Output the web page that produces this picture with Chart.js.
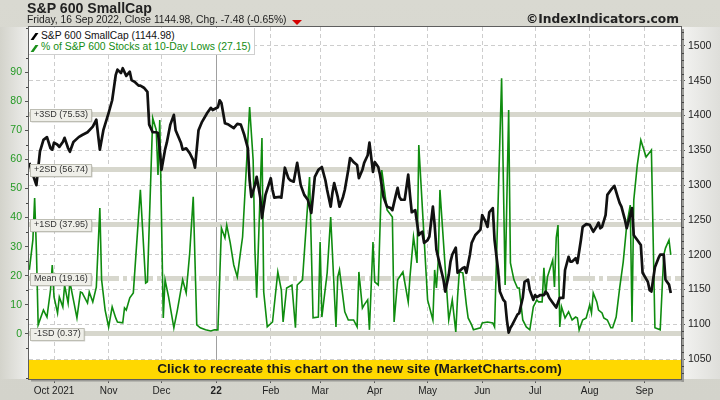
<!DOCTYPE html>
<html><head><meta charset="utf-8">
<script src="https://cdn.jsdelivr.net/npm/chart.js@4.4.0/dist/chart.umd.min.js"></script>
<style>
html,body{margin:0;padding:0;}
body{width:720px;height:400px;position:relative;overflow:hidden;background:linear-gradient(to bottom,#d9d9d1,#d3d3cb);font-family:"Liberation Sans",Arial,sans-serif;}
#bgL{position:absolute;left:0;top:27px;width:29px;height:352px;background:linear-gradient(to right,#d3d3cb,#eeeeec);}
#bgR{position:absolute;left:681px;top:27px;width:39px;height:352px;background:linear-gradient(to right,#f3f3f1,#dededa);}
canvas{position:absolute;left:0;top:0;}
.t{position:absolute;white-space:nowrap;line-height:1;}
#legend{position:absolute;left:29px;top:28px;width:225px;height:26px;background:#fff;border:1px solid #cfcfcf;border-left:none;border-top:none;}
.ico{position:absolute;width:2.5px;height:7px;transform:skewX(-35deg);}
#tri{position:absolute;width:0;height:0;border-left:5px solid transparent;border-right:5px solid transparent;border-top:5px solid #d40000;}
</style></head><body>
<div id="bgL"></div><div id="bgR"></div>
<canvas id="c" width="720" height="400"></canvas>
<div class="t" id="title" style="font-weight:bold;font-size:13px;color:#222;">S&amp;P 600 SmallCap</div>
<div class="t" id="sub" style="font-size:10.5px;color:#222;">Friday, 16 Sep 2022, Close 1144.98, Chg. -7.48 (-0.65%)</div>
<div id="tri"></div>
<div class="t" id="copy" style="font-family:'DejaVu Sans',sans-serif;font-weight:bold;font-size:11px;color:#222;">©IndexIndicators.com</div>
<div id="legend"></div>
<div class="ico" style="left:33px;top:33px;background:#000;"></div>
<div class="ico" style="left:33px;top:45px;background:#1a8f1a;"></div>
<div class="t" id="lg1" style="font-size:10.5px;color:#111;">S&amp;P 600 SmallCap (1144.98)</div>
<div class="t" id="lg2" style="font-size:10.5px;color:#138c13;">% of S&amp;P 600 Stocks at 10-Day Lows (27.15)</div>
<div class="t" id="banner" style="font-weight:bold;font-size:12px;color:#1a1a1a;">Click to recreate this chart on the new site (MarketCharts.com)</div>
<script>
// ---------- data ----------
const spxDates = [
"2021-09-17","2021-09-19","2021-09-21","2021-09-23","2021-09-25","2021-09-27","2021-09-29","2021-09-30","2021-10-01","2021-10-03",
"2021-10-04","2021-10-06","2021-10-07","2021-10-09","2021-10-10","2021-10-12","2021-10-15","2021-10-17","2021-10-20","2021-10-23",
"2021-10-25","2021-10-27","2021-10-29","2021-11-01","2021-11-03","2021-11-05","2021-11-06","2021-11-08","2021-11-09","2021-11-11",
"2021-11-13","2021-11-14","2021-11-16","2021-11-18","2021-11-19","2021-11-21","2021-11-23","2021-11-24","2021-11-26","2021-11-28",
"2021-11-29","2021-11-30","2021-12-01","2021-12-03","2021-12-04","2021-12-06","2021-12-08","2021-12-09","2021-12-12","2021-12-13",
"2021-12-15","2021-12-17","2021-12-19","2021-12-20","2021-12-22","2021-12-24","2021-12-27","2021-12-29","2021-12-30","2022-01-02",
"2022-01-03","2022-01-04","2022-01-06","2022-01-08","2022-01-11","2022-01-13","2022-01-15","2022-01-17","2022-01-19","2022-01-20",
"2022-01-21","2022-01-23","2022-01-24","2022-01-26","2022-01-27","2022-01-29","2022-02-01","2022-02-02","2022-02-03","2022-02-06",
"2022-02-07","2022-02-09","2022-02-11","2022-02-12","2022-02-14","2022-02-16","2022-02-18","2022-02-20","2022-02-22","2022-02-24",
"2022-02-26","2022-02-28","2022-03-02","2022-03-04","2022-03-05","2022-03-07","2022-03-08","2022-03-09","2022-03-11","2022-03-12",
"2022-03-14","2022-03-15","2022-03-17","2022-03-18","2022-03-20","2022-03-22","2022-03-23","2022-03-25","2022-03-26","2022-03-28",
"2022-03-29","2022-03-31","2022-04-01","2022-04-03","2022-04-04","2022-04-06","2022-04-08","2022-04-10","2022-04-11","2022-04-13",
"2022-04-14","2022-04-15","2022-04-16","2022-04-18","2022-04-20","2022-04-21","2022-04-22","2022-04-24","2022-04-26","2022-04-27",
"2022-04-28","2022-04-29","2022-05-01","2022-05-02","2022-05-04","2022-05-05","2022-05-06","2022-05-08","2022-05-10","2022-05-11",
"2022-05-13","2022-05-14","2022-05-15","2022-05-17","2022-05-18","2022-05-21","2022-05-22","2022-05-23","2022-05-25","2022-05-26",
"2022-05-28","2022-05-31","2022-06-01","2022-06-03","2022-06-04","2022-06-05","2022-06-07","2022-06-08","2022-06-10","2022-06-11",
"2022-06-13","2022-06-14","2022-06-15","2022-06-16","2022-06-17","2022-06-18","2022-06-20","2022-06-21","2022-06-22","2022-06-24",
"2022-06-25","2022-06-27","2022-06-28","2022-06-30","2022-07-01","2022-07-02","2022-07-04","2022-07-06","2022-07-07","2022-07-08",
"2022-07-09","2022-07-11","2022-07-13","2022-07-15","2022-07-17","2022-07-18","2022-07-20","2022-07-21","2022-07-22","2022-07-24",
"2022-07-25","2022-07-27","2022-07-28","2022-07-30","2022-08-01","2022-08-03","2022-08-05","2022-08-06","2022-08-07","2022-08-08",
"2022-08-10","2022-08-11","2022-08-13","2022-08-14","2022-08-15","2022-08-17","2022-08-18","2022-08-19","2022-08-21","2022-08-22",
"2022-08-24","2022-08-25","2022-08-26","2022-08-28","2022-08-30","2022-08-31","2022-09-03","2022-09-04","2022-09-05","2022-09-07",
"2022-09-09","2022-09-10","2022-09-12","2022-09-13","2022-09-15","2022-09-16"];
const spxValues = [
1332,1315,1300,1348,1365,1369,1353,1351,1361,1358,
1355,1362,1368,1353,1348,1362,1369,1372,1376,1384,
1394,1351,1379,1404,1422,1458,1466,1461,1468,1457,
1463,1451,1448,1443,1443,1440,1434,1387,1376,1376,
1375,1351,1322,1351,1361,1387,1401,1379,1361,1351,
1353,1346,1336,1325,1379,1391,1404,1411,1408,1412,
1422,1418,1389,1387,1382,1388,1387,1372,1353,1307,
1283,1300,1312,1283,1253,1286,1310,1293,1282,1283,
1282,1325,1310,1307,1305,1332,1300,1286,1279,1260,
1312,1322,1326,1307,1293,1269,1289,1303,1283,1269,
1283,1293,1322,1339,1333,1329,1310,1322,1332,1343,
1361,1319,1333,1326,1315,1283,1269,1267,1264,1286,
1296,1283,1279,1279,1315,1286,1261,1264,1228,1231,
1233,1217,1221,1226,1269,1243,1207,1185,1164,1147,
1171,1190,1200,1210,1174,1181,1182,1174,1200,1217,
1228,1236,1257,1247,1240,1261,1267,1221,1178,1147,
1135,1132,1106,1088,1095,1099,1109,1114,1116,1138,
1161,1164,1149,1135,1142,1139,1142,1142,1147,1144,
1138,1131,1124,1138,1138,1178,1197,1190,1190,1195,
1188,1221,1240,1244,1243,1233,1241,1246,1238,1240,
1257,1286,1293,1296,1299,1282,1274,1269,1250,1238,
1257,1267,1228,1221,1214,1174,1161,1149,1147,1182,
1195,1200,1200,1164,1157,1144.98];

const pctDates = [
"2021-09-17","2021-09-19","2021-09-20","2021-09-21","2021-09-22","2021-09-25","2021-09-27","2021-09-29","2021-09-30","2021-10-01",
"2021-10-03","2021-10-04","2021-10-06","2021-10-07","2021-10-09","2021-10-10","2021-10-12","2021-10-14","2021-10-16","2021-10-17",
"2021-10-20","2021-10-21","2021-10-23","2021-10-25","2021-10-27","2021-10-28","2021-10-30","2021-11-01","2021-11-03","2021-11-05",
"2021-11-06","2021-11-09","2021-11-10","2021-11-11","2021-11-13","2021-11-15","2021-11-19","2021-11-22","2021-11-23","2021-11-26",
"2021-11-28","2021-11-29","2021-11-30","2021-12-02","2021-12-03","2021-12-05","2021-12-08","2021-12-10","2021-12-13","2021-12-15",
"2021-12-17","2021-12-19","2021-12-21","2021-12-23","2021-12-26","2021-12-29","2021-12-31","2022-01-02","2022-01-04","2022-01-06",
"2022-01-07","2022-01-09","2022-01-11","2022-01-13","2022-01-15","2022-01-16","2022-01-20","2022-01-22","2022-01-23","2022-01-24",
"2022-01-27","2022-01-28","2022-01-30","2022-02-02","2022-02-05","2022-02-07","2022-02-08","2022-02-10","2022-02-13","2022-02-15",
"2022-02-16","2022-02-19","2022-02-23","2022-02-25","2022-02-28","2022-03-01","2022-03-02","2022-03-05","2022-03-07","2022-03-10",
"2022-03-11","2022-03-12","2022-03-15","2022-03-17","2022-03-20","2022-03-22","2022-03-23","2022-03-25","2022-03-26","2022-03-28",
"2022-03-29","2022-03-31","2022-04-01","2022-04-03","2022-04-05","2022-04-08","2022-04-11","2022-04-12","2022-04-14","2022-04-17",
"2022-04-20","2022-04-21","2022-04-23","2022-04-25","2022-04-26","2022-05-01","2022-05-04","2022-05-05","2022-05-06","2022-05-07",
"2022-05-08","2022-05-13","2022-05-15","2022-05-17","2022-05-18","2022-05-19","2022-05-21","2022-05-23","2022-05-24","2022-05-26",
"2022-05-27","2022-05-31","2022-06-01","2022-06-04","2022-06-07","2022-06-08","2022-06-12","2022-06-14","2022-06-16","2022-06-17",
"2022-06-19","2022-06-21","2022-06-22","2022-06-24","2022-06-26","2022-06-28","2022-06-30","2022-07-02","2022-07-03","2022-07-05",
"2022-07-06","2022-07-07","2022-07-08","2022-07-11","2022-07-12","2022-07-13","2022-07-14","2022-07-15","2022-07-16","2022-07-18",
"2022-07-20","2022-07-22","2022-07-24","2022-07-25","2022-07-26","2022-07-28","2022-07-30","2022-08-01","2022-08-02","2022-08-03",
"2022-08-05","2022-08-06","2022-08-08","2022-08-09","2022-08-11","2022-08-13","2022-08-14","2022-08-16","2022-08-18","2022-08-20",
"2022-08-22","2022-08-24","2022-08-25","2022-08-26","2022-08-28","2022-08-30","2022-09-02","2022-09-05","2022-09-07","2022-09-10",
"2022-09-12","2022-09-13","2022-09-15","2022-09-16"];
const pctValues = [
22.0,32.3,46.7,28.9,3.1,8.2,5.8,15.1,23.7,12.7,
7.2,12.7,9.3,16.8,10.6,17.9,11.7,5.5,14.4,14.1,
10.6,14.4,11.0,16.1,43.3,18.6,8.2,2.4,9.3,5.5,
4.1,3.8,8.9,8.2,12.4,14.1,49.5,17.5,17.9,74.2,
70.1,54.6,73.5,5.5,18.6,12.7,2.1,8.2,18.6,14.1,
27.8,47.1,3.1,2.1,1.4,1.0,1.4,1.4,36.4,33.0,
37.4,31.3,23.7,19.6,28.9,33.3,78.0,59.8,28.9,12.4,
67.3,14.4,2.4,4.1,21.3,15.1,4.1,15.8,16.8,2.1,
16.8,18.6,53.9,5.5,5.8,31.6,5.8,21.0,40.2,2.4,
19.6,22.0,7.6,4.8,4.8,2.4,21.3,8.9,10.0,11.7,
1.4,31.6,17.9,16.8,56.3,42.6,40.2,4.1,18.6,21.3,
11.0,19.6,33.3,24.4,64.9,11.7,4.8,22.0,15.8,24.7,
49.5,4.8,11.7,0.7,12.7,21.3,21.0,10.0,5.5,3.1,
1.4,2.1,3.8,4.1,3.8,2.4,87.9,16.8,77.0,24.4,
18.6,15.8,15.8,4.8,2.4,1.4,9.3,11.7,11.0,11.0,
22.7,13.4,19.6,25.4,16.1,33.0,37.4,2.4,9.3,5.5,
7.6,4.8,5.8,5.5,1.4,4.8,5.5,10.0,7.2,14.1,
11.0,8.2,7.2,5.5,4.8,2.1,2.1,5.8,15.8,24.7,
37.4,44.3,4.1,46.0,58.1,66.6,60.8,63.2,2.1,1.4,
27.1,29.5,32.3,27.15];

const monthTickDates = ["2021-10-01","2021-11-01","2021-12-01","2022-01-01","2022-02-01","2022-03-01","2022-04-01","2022-05-01","2022-06-01","2022-07-01","2022-08-01","2022-09-01"];
const monthLabels = ["Oct 2021","Nov","Dec","22","Feb","Mar","Apr","May","Jun","Jul","Aug","Sep"];
const yearTickLabel = "22";
const rightTicks = [1050,1100,1150,1200,1250,1300,1350,1400,1450,1500];
const leftTicks = [0,10,20,30,40,50,60,70,80,90];
const bandNames = ["+3SD","+2SD","+1SD","Mean","-1SD"];
const bandValues = [75.53,56.74,37.95,19.16,0.37];

// ---------- helpers ----------
const BASE = Date.UTC(2021,9,1);
const dayOf = s => { const p = s.split('-').map(Number); return (Date.UTC(p[0],p[1]-1,p[2]) - BASE) / 864e5; };
const monthTickDays = monthTickDates.map(dayOf);
const yearDay = monthTickDays[monthLabels.indexOf(yearTickLabel)];
const spxPts = spxDates.map((d,i)=>({x:dayOf(d), y:spxValues[i]}));
const pctPts = pctDates.map((d,i)=>({x:dayOf(d), y:pctValues[i]}));
const xMin = dayOf(spxDates[0]) - 0.2;
const xMax = dayOf(spxDates[spxDates.length-1]) + 5.8;
const FONT = "'Liberation Sans', Arial, sans-serif";

const decor = {
  id:'decor',
  beforeDraw(chart){
    const {ctx, chartArea:a} = chart;
    ctx.save(); ctx.fillStyle='#ffffff'; ctx.fillRect(a.left,a.top,a.right-a.left,a.bottom-a.top); ctx.restore();
  },
  beforeDatasetsDraw(chart){
    const {ctx, chartArea:a} = chart; const y = chart.scales.yL;
    ctx.save();
    ctx.beginPath(); ctx.rect(a.left,a.top,a.right-a.left,a.bottom-a.top); ctx.clip();
    bandValues.forEach((v,i)=>{
      const py = Math.round(y.getPixelForValue(v));
      ctx.strokeStyle='#d7d7cd'; ctx.lineWidth=5;
      ctx.setLineDash(bandNames[i]==='Mean' ? [22,4,4,4] : []);
      ctx.beginPath(); ctx.moveTo(a.left,py+0.5); ctx.lineTo(a.right,py+0.5); ctx.stroke();
    });
    ctx.restore();
  },
  afterDatasetsDraw(chart){
    const {ctx, chartArea:a} = chart; const y = chart.scales.yL;
    ctx.save();
    let fs = 10; ctx.font = fs+'px '+FONT;
    const w0 = ctx.measureText(bandNames[0]+' ('+bandValues[0].toFixed(2)+')').width;
    fs = fs*54/w0; ctx.font = fs.toFixed(2)+'px '+FONT;
    bandValues.forEach((v,i)=>{
      const txt = bandNames[i]+' ('+v.toFixed(2)+')';
      const py = Math.round(y.getPixelForValue(v))+0.5;
      const w = ctx.measureText(txt).width;
      const bx = a.left+1.5, bw = w+7, bh = 12, by = Math.round(py-bh/2)+0.5;
      ctx.fillStyle='rgba(120,120,110,0.35)'; ctx.fillRect(bx+1,by+1,bw,bh);
      ctx.fillStyle='#efefe9'; ctx.fillRect(bx,by,bw,bh);
      ctx.strokeStyle='#bdbdb3'; ctx.lineWidth=1; ctx.strokeRect(bx,by,bw,bh);
      ctx.fillStyle='#333'; ctx.textBaseline='middle'; ctx.textAlign='left';
      ctx.fillText(txt,bx+3.5,py+0.5);
    });
    ctx.fillStyle='#ffd800';
    ctx.fillRect(a.left, a.bottom-19, a.right-a.left, 19);
    ctx.restore();
  },
  afterDraw(chart){
    const {ctx, chartArea:a} = chart; const y = chart.scales.yL; const yr = chart.scales.yR;
    ctx.save();
    ctx.fillStyle='#9a9a96';
    ctx.fillRect(a.right+0.5, a.top+2, 2.5, a.bottom-a.top+1);
    ctx.fillRect(a.left+2, a.bottom+0.5, a.right-a.left+1, 2);
    ctx.strokeStyle='#5e5e5e'; ctx.lineWidth=1;
    ctx.strokeRect(a.left-0.5, a.top-0.5, a.right-a.left+1, a.bottom-a.top+1);
    ctx.fillStyle='#444';
    for(let v=1030; v<=1520; v+=10){ if(v%50===0) continue; const py=Math.round(yr.getPixelForValue(v)); ctx.fillRect(a.right+1,py,2,1); }
    for(let v=-15; v<=105; v+=5){ if(v%10===0) continue; const py=Math.round(y.getPixelForValue(v)); ctx.fillRect(a.left-3,py,2,1); }
    ctx.restore();
  }
};

const chart = new Chart(document.getElementById('c'), {
  type:'line',
  data:{ datasets:[
    { label:'S&P 600 SmallCap', data:spxPts, yAxisID:'yR', borderColor:'#111111', borderWidth:2.7, pointRadius:0, tension:0, borderJoinStyle:'round', order:0 },
    { label:'% of S&P 600 Stocks at 10-Day Lows', data:pctPts, yAxisID:'yL', borderColor:'#0f8c0f', borderWidth:1.6, pointRadius:0, tension:0, order:1 }
  ]},
  options:{
    responsive:false, animation:false, devicePixelRatio:1,
    layout:{ padding:{ top:27, left:0, right:0, bottom:0 } },
    plugins:{ legend:{display:false}, tooltip:{enabled:false}, title:{display:false} },
    scales:{
      x:{ type:'linear', position:'bottom', min:xMin, max:xMax,
        afterBuildTicks: s => { s.ticks = monthTickDays.map(v=>({value:v})); },
        afterFit: s => { s.height = 21; },
        ticks:{ autoSkip:false, maxRotation:0, padding:2, color:'#222',
          callback:(v)=>{ const i = monthTickDays.indexOf(v); return i>=0 ? monthLabels[i] : ''; },
          font: c => ({ family:FONT, size:10, weight: (c.tick && c.tick.value===yearDay) ? 'bold' : 'normal' }) },
        grid:{ color: c => (c.tick && c.tick.value===yearDay) ? '#a0a0a0' : '#cdcdcd', lineWidth:1, drawTicks:true, tickLength:4, tickColor:'#555' },
        border:{ display:false, dash: c => (c.tick && c.tick.value===yearDay) ? [] : [4,3] }
      },
      yL:{ type:'linear', position:'left', min:-15.5, max:105.5,
        afterBuildTicks: s => { s.ticks = leftTicks.map(v=>({value:v})); },
        afterFit: s => { s.width = 29; },
        ticks:{ color:'#259a25', padding:3, font:{family:FONT, size:10.5}, callback:(v)=>String(v) },
        grid:{ drawOnChartArea:false, drawTicks:true, tickLength:4, tickColor:'#555' },
        border:{ display:false }
      },
      yR:{ type:'linear', position:'right', min:1021.3, max:1527.3,
        afterBuildTicks: s => { s.ticks = rightTicks.map(v=>({value:v})); },
        afterFit: s => { s.width = 39; },
        ticks:{ color:'#222', padding:3, font:{family:FONT, size:10.5}, callback:(v)=>String(v) },
        grid:{ color:'#cdcdcd', lineWidth:1, drawTicks:true, tickLength:4, tickColor:'#555' },
        border:{ display:false, dash:[4,3] }
      }
    }
  },
  plugins:[decor]
});

// ---------- text placement ----------
function place(id, x, baseline, width, align){
  const el = document.getElementById(id);
  let fs = parseFloat(getComputedStyle(el).fontSize);
  if(width){ const w = el.getBoundingClientRect().width; fs = fs*width/w; el.style.fontSize = fs+'px'; }
  const w2 = el.getBoundingClientRect().width;
  let left = x; if(align==='right') left = x - w2; if(align==='center') left = x - w2/2;
  el.style.left = left+'px';
  el.style.top = (baseline - 0.85*fs)+'px';
  return {left, right:left+w2};
}
place('title', 27, 13, 125);
const sb = place('sub', 27, 23.5, 260);
const tri = document.getElementById('tri'); tri.style.left = (sb.right+6)+'px'; tri.style.top = '20px';
place('copy', 679, 23.5, 153, 'right');
place('lg1', 41, 39.5, 134);
place('lg2', 41, 51, 210);
place('banner', 359.5, 374, 405, 'center');
</script>
</body></html>
